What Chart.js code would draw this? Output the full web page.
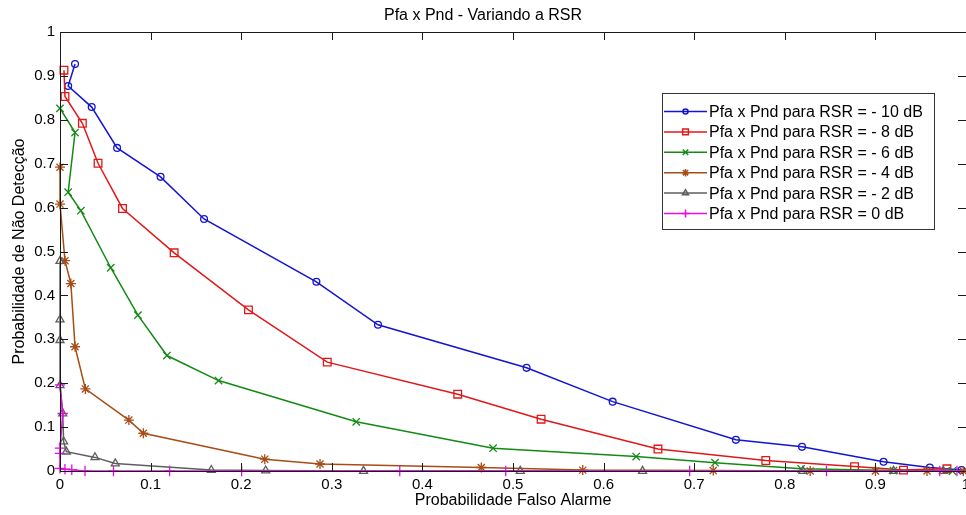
<!DOCTYPE html>
<html>
<head>
<meta charset="utf-8">
<script src="https://cdn.jsdelivr.net/npm/chart.js@4.4.1/dist/chart.umd.min.js"></script>
<style>
  html, body { margin: 0; padding: 0; background: #fff; overflow: hidden; }
  #wrap { position: relative; width: 980px; height: 515px; }
</style>
</head>
<body>
<div id="wrap"><canvas id="grafico"></canvas></div>
<script>
// eixos
const xTicks = [0, 0.1, 0.2, 0.3, 0.4, 0.5, 0.6, 0.7, 0.8, 0.9, 1];
const xTickLabels = ["0", "0.1", "0.2", "0.3", "0.4", "0.5", "0.6", "0.7", "0.8", "0.9", "1"];
const yTicks = [0, 0.1, 0.2, 0.3, 0.4, 0.5, 0.6, 0.7, 0.8, 0.9, 1];
const yTickLabels = ["0", "0.1", "0.2", "0.3", "0.4", "0.5", "0.6", "0.7", "0.8", "0.9", "1"];

// RSR = -10 dB
const pfaM10 = [0.0166, 0.009, 0.035, 0.063, 0.111, 0.159, 0.283, 0.351, 0.515, 0.610, 0.746, 0.819, 0.909, 0.960, 0.995];
const pndM10 = [0.927, 0.877, 0.829, 0.736, 0.670, 0.574, 0.431, 0.333, 0.235, 0.158, 0.071, 0.055, 0.021, 0.008, 0.002];
// RSR = -8 dB
const pfaM8 = [0.0044, 0.0055, 0.0247, 0.042, 0.069, 0.126, 0.208, 0.295, 0.439, 0.531, 0.660, 0.779, 0.877, 0.931, 0.979];
const pndM8 = [0.913, 0.853, 0.792, 0.701, 0.598, 0.497, 0.367, 0.248, 0.175, 0.118, 0.050, 0.024, 0.010, 0.002, 0.005];
// RSR = -6 dB
const pfaM6 = [0, 0.0166, 0.009, 0.023, 0.056, 0.086, 0.118, 0.175, 0.327, 0.478, 0.636, 0.723, 0.818, 0.920, 0.985];
const pndM6 = [0.826, 0.771, 0.635, 0.593, 0.463, 0.355, 0.263, 0.206, 0.112, 0.052, 0.033, 0.019, 0.005, 0.001, 0];
// RSR = -4 dB
const pfaM4 = [0, 0, 0.0055, 0.012, 0.0166, 0.028, 0.076, 0.092, 0.226, 0.287, 0.465, 0.577, 0.721, 0.828, 0.900, 0.957, 0.997];
const pndM4 = [0.692, 0.608, 0.479, 0.427, 0.283, 0.187, 0.116, 0.086, 0.027, 0.016, 0.008, 0.002, 0.001, 0, 0, 0, 0];
// RSR = -2 dB
const pfaM2 = [0, 0, 0, 0, 0.003, 0.004, 0.007, 0.0386, 0.061, 0.167, 0.227, 0.335, 0.508, 0.643, 0.820, 0.920, 0.975];
const pndM2 = [0.478, 0.345, 0.298, 0.195, 0.131, 0.067, 0.044, 0.031, 0.017, 0.002, 0.001, 0, 0, 0, 0, 0, 0];
// RSR = 0 dB
const pfa0 = [0, 0.003, 0, 0, 0, 0.0055, 0.013, 0.0276, 0.059, 0.121, 0.2005, 0.375, 0.492, 0.695, 0.846, 0.971, 0.99];
const pnd0 = [0.196, 0.131, 0.052, 0.040, 0.006, 0.004, 0.003, 0, 0, 0, 0, 0, 0, 0, 0, 0, 0];

const nomes = [
  "Pfa x Pnd para RSR = - 10 dB",
  "Pfa x Pnd para RSR = - 8 dB",
  "Pfa x Pnd para RSR = - 6 dB",
  "Pfa x Pnd para RSR = - 4 dB",
  "Pfa x Pnd para RSR = - 2 dB",
  "Pfa x Pnd para RSR = 0 dB"
];

const fonte = "'Liberation Sans', Arial, sans-serif";

function pontos(xs, ys) {
  return xs.map((x, i) => ({ x: x, y: ys[i] }));
}

function serie(nome, xs, ys, cor, estilo, raio, ordem) {
  return {
    label: nome,
    data: pontos(xs, ys),
    borderColor: cor,
    backgroundColor: cor,
    borderWidth: 1.5,
    pointStyle: estilo,
    pointRadius: raio,
    pointHoverRadius: raio,
    pointBorderColor: cor,
    pointBackgroundColor: "rgba(0,0,0,0)",
    pointBorderWidth: 1.3,
    tension: 0,
    fill: false,
    clip: false,
    order: ordem
  };
}

// moldura com ticks para dentro (estilo matlab) e legenda dentro do grafico
const moldura = {
  id: "moldura",
  afterDraw(chart) {
    const { ctx, chartArea: a, scales } = chart;
    ctx.save();
    ctx.strokeStyle = "#1a1a1a";
    ctx.lineWidth = 1;
    ctx.strokeRect(a.left + 0.5, a.top + 0.5, a.right - a.left, a.bottom - a.top);
    const tl = 8;
    ctx.beginPath();
    xTicks.forEach(v => {
      const px = Math.round(scales.x.getPixelForValue(v)) + 0.5;
      ctx.moveTo(px, a.bottom); ctx.lineTo(px, a.bottom - tl);
      ctx.moveTo(px, a.top); ctx.lineTo(px, a.top + tl);
    });
    yTicks.forEach(v => {
      const py = Math.round(scales.y.getPixelForValue(v)) + 0.5;
      ctx.moveTo(a.left, py); ctx.lineTo(a.left + tl, py);
      ctx.moveTo(a.right, py); ctx.lineTo(a.right - tl, py);
    });
    ctx.stroke();

    // legenda
    const bx = 662, by = 93, bw = 272, bh = 136;
    ctx.fillStyle = "#fff";
    ctx.fillRect(bx, by, bw, bh);
    ctx.strokeStyle = "#333";
    ctx.strokeRect(bx + 0.5, by + 0.5, bw, bh);
    ctx.font = "16px " + fonte;
    ctx.textBaseline = "middle";
    ctx.textAlign = "left";
    chart.data.datasets.forEach((ds, i) => {
      const y = 111.5 + i * 20.4;
      ctx.strokeStyle = ds.borderColor;
      ctx.lineWidth = 1.5;
      ctx.beginPath();
      ctx.moveTo(664, y); ctx.lineTo(707, y);
      ctx.stroke();
      ctx.fillStyle = "rgba(0,0,0,0)";
      Chart.helpers.drawPoint(ctx, {
        pointStyle: ds.pointStyle,
        radius: ds.pointRadius * 0.75,
        rotation: 0,
        borderWidth: 1.2
      }, 685.5, y);
      ctx.fillStyle = "#000";
      ctx.fillText(ds.label, 709, y + 1);
    });
    ctx.restore();
  }
};

new Chart(document.getElementById("grafico"), {
  type: "line",
  data: {
    datasets: [
      serie(nomes[0], pfaM10, pndM10, "#1414d2", "circle", 3.4, 6),
      serie(nomes[1], pfaM8, pndM8, "#e01818", "rect", 5.4, 5),
      serie(nomes[2], pfaM6, pndM6, "#138a13", "crossRot", 5.2, 4),
      serie(nomes[3], pfaM4, pndM4, "#a84c17", "star", 5, 3),
      serie(nomes[4], pfaM2, pndM2, "#5e5e5e", "triangle", 4.6, 2),
      serie(nomes[5], pfa0, pnd0, "#e010e0", "cross", 5.2, 1)
    ]
  },
  options: {
    responsive: true,
    maintainAspectRatio: false,
    animation: false,
    layout: { padding: { left: 0, top: 0, right: 14, bottom: 0 } },
    plugins: {
      legend: { display: false },
      tooltip: { enabled: false },
      title: {
        display: true,
        text: "Pfa x Pnd - Variando a RSR",
        color: "#000",
        font: { family: fonte, size: 16, weight: "normal" },
        padding: { top: 6, bottom: 6.8 }
      }
    },
    scales: {
      x: {
        type: "linear",
        min: 0,
        max: 1,
        afterBuildTicks: s => { s.ticks = xTicks.map(v => ({ value: v })); },
        afterFit: s => { s.height = 44; },
        grid: { display: false, drawTicks: false },
        border: { display: false },
        ticks: {
          color: "#000",
          padding: 5,
          maxRotation: 0,
          autoSkip: false,
          font: { family: fonte, size: 15 },
          callback: (v, i) => xTickLabels[i]
        },
        title: {
          display: true,
          text: "Probabilidade Falso Alarme",
          color: "#000",
          font: { family: fonte, size: 16 },
          padding: { top: 0, bottom: 5 }
        }
      },
      y: {
        type: "linear",
        min: 0,
        max: 1,
        afterBuildTicks: s => { s.ticks = yTicks.map(v => ({ value: v })); },
        afterFit: s => { s.width = 60; },
        grid: { display: false, drawTicks: false },
        border: { display: false },
        ticks: {
          color: "#000",
          padding: 5,
          autoSkip: false,
          font: { family: fonte, size: 15 },
          callback: (v, i) => yTickLabels[i]
        },
        title: {
          display: true,
          text: "Probabilidade de Não Detecção",
          color: "#000",
          font: { family: fonte, size: 16 },
          padding: { top: 10, bottom: 0 }
        }
      }
    }
  },
  plugins: [moldura]
});
</script>
</body>
</html>
